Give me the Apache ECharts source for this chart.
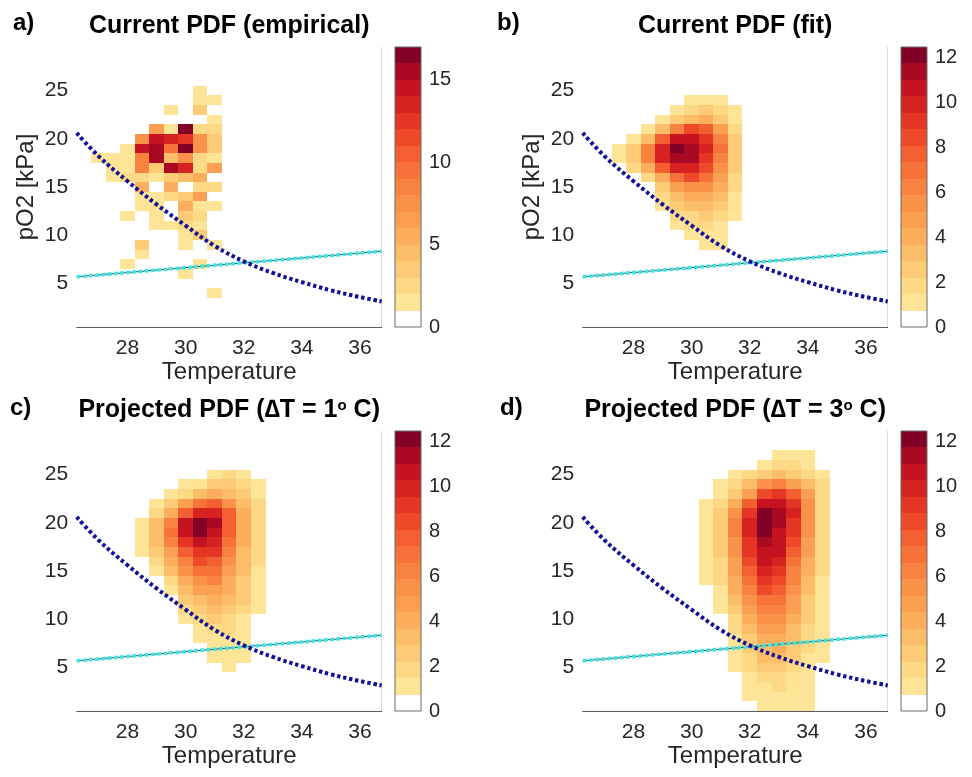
<!DOCTYPE html>
<html><head><meta charset="utf-8">
<script src="https://cdn.jsdelivr.net/npm/echarts@6/dist/echarts.min.js"></script>
<style>html,body{margin:0;padding:0;background:#fff}#c{width:972px;height:777px}</style>
</head><body><div id="c"></div>
<script>
// ---------------- data ----------------
const xTicks = [28, 30, 32, 34, 36];
const yTicks = [5, 10, 15, 20, 25];
const cbTicksA = [0, 5, 10, 15];
const cbTicksFit = [0, 2, 4, 6, 8, 10, 12];

// a) empirical counts
const tempA = [27, 27.5, 28, 28.5, 29, 29.5, 30, 30.5, 31];
const pO2A = [25, 24, 23, 22, 21, 20, 19, 18, 17, 16, 15, 14, 13, 12, 11, 10, 9, 8, 7, 6, 5, 4];
const countsA = [
  [0,0,0,0,0,0,0,1,0],
  [0,0,0,0,0,0,0,1,1],
  [0,0,0,0,0,1,0,3,0],
  [0,0,0,0,0,0,0,0,1],
  [0,0,0,0,6,1,16,2,2],
  [0,0,0,7,14,13,12,7,3],
  [0,0,1,14,15,9,17,7,3],
  [1,1,1,8,15,4,7,2,1],
  [0,1,1,8,3,15,13,2,6],
  [0,1,2,2,1,3,4,5,0],
  [0,0,0,5,0,5,0,2,2],
  [0,0,0,1,1,2,3,6,0],
  [0,0,0,1,1,0,5,1,1],
  [0,0,1,0,1,0,3,2,0],
  [0,0,0,0,1,1,2,1,0],
  [0,0,0,0,0,0,1,3,0],
  [0,0,0,3,0,0,1,0,1],
  [0,0,0,1,0,0,0,0,0],
  [0,0,1,0,0,0,0,1,0],
  [0,0,0,0,0,0,1,0,0],
  [0,0,0,0,0,0,0,0,0],
  [0,0,0,0,0,0,0,0,1]
];

// b) fitted PDF
const tempB = [27.5, 28, 28.5, 29, 29.5, 30, 30.5, 31, 31.5];
const pO2B = [24, 23, 22, 21, 20, 19, 18, 17, 16, 15, 14, 13, 12, 11, 10, 9];
const pdfB = [
  [0,0,0,0,0,1.1,1.1,1.1,0],
  [0,0,0,0,1.1,1.8,2.6,1.8,1.1],
  [0,0,0,1.1,2.6,3.3,4.0,2.6,1.1],
  [0,0,1.1,3.3,6.2,8.4,7.7,4.8,1.8],
  [0,1.1,3.3,7.7,10.6,10.6,9.2,6.2,2.6],
  [1.1,2.6,6.2,9.9,12.1,11.3,9.9,7.0,2.6],
  [1.1,2.6,6.2,9.9,11.3,11.3,9.2,6.2,2.6],
  [0,1.8,4.0,7.7,9.9,9.9,8.4,5.5,2.6],
  [0,0,1.8,4.0,7.0,8.4,7.0,4.8,1.8],
  [0,0,0,2.6,4.8,5.5,5.5,4.0,1.8],
  [0,0,0,1.8,3.3,4.0,4.0,3.3,1.1],
  [0,0,0,1.1,2.6,3.3,3.3,2.6,1.1],
  [0,0,0,0,1.8,1.8,2.6,1.8,1.1],
  [0,0,0,0,1.1,1.8,1.8,1.1,0],
  [0,0,0,0,0,1.1,1.1,1.1,0],
  [0,0,0,0,0,0,1.1,1.1,0]
];

// c) projected PDF, dT = 1
const tempC = [28.5, 29, 29.5, 30, 30.5, 31, 31.5, 32, 32.5];
const pO2C = [25, 24, 23, 22, 21, 20, 19, 18, 17, 16, 15, 14, 13, 12, 11, 10, 9, 8, 7, 6, 5];
const pdfC = [
  [0,0,0,0,0,1.1,1.8,1.1,0],
  [0,0,0,1.1,1.1,2.6,2.6,1.8,1.1],
  [0,0,1.1,1.8,3.3,4.0,3.3,2.6,1.1],
  [0,1.1,2.6,4.8,7.0,7.7,5.5,3.3,1.8],
  [0,1.8,4.0,7.7,9.9,9.9,7.7,4.0,1.8],
  [1.1,3.3,6.2,10.6,12.1,11.3,7.7,4.0,1.8],
  [1.1,3.3,7.0,10.6,12.1,10.6,7.7,4.0,1.8],
  [1.1,3.3,6.2,9.2,10.6,9.9,7.0,4.0,1.8],
  [1.1,2.6,4.8,7.7,9.2,9.2,6.2,3.3,1.8],
  [0,1.8,4.0,6.2,8.4,7.7,5.5,3.3,1.8],
  [0,1.1,3.3,5.5,7.0,7.0,4.8,3.3,1.1],
  [0,0,1.8,4.0,5.5,6.2,4.0,2.6,1.1],
  [0,0,1.1,3.3,4.8,4.8,4.0,2.6,1.1],
  [0,0,0,2.6,3.3,4.0,3.3,2.6,1.1],
  [0,0,0,1.8,2.6,3.3,2.6,1.8,1.1],
  [0,0,0,1.1,1.8,2.6,1.8,1.1,0],
  [0,0,0,0,1.1,1.8,1.8,1.1,0],
  [0,0,0,0,1.1,1.1,1.1,1.1,0],
  [0,0,0,0,0,1.1,1.1,1.1,0],
  [0,0,0,0,0,1.1,1.1,1.1,0],
  [0,0,0,0,0,0,1.1,0,0]
];

// d) projected PDF, dT = 3
const tempD = [30.5, 31, 31.5, 32, 32.5, 33, 33.5, 34, 34.5];
const pO2D = [27, 26, 25, 24, 23, 22, 21, 20, 19, 18, 17, 16, 15, 14, 13, 12, 11, 10, 9, 8, 7, 6, 5, 4, 3, 2, 1];
const pdfD = [
  [0,0,0,0,0,1.1,1.1,1.1,0],
  [0,0,0,0,1.1,1.8,1.8,1.1,0],
  [0,0,1.1,1.8,2.6,3.3,2.6,1.8,1.1],
  [0,1.1,1.8,3.3,5.5,6.2,4.8,3.3,1.8],
  [0,1.1,2.6,4.8,8.4,9.2,7.7,4.8,1.8],
  [1.1,1.8,4.0,7.7,10.6,10.6,9.2,5.5,1.8],
  [1.1,2.6,5.5,9.2,12.1,11.3,9.9,5.5,1.8],
  [1.1,2.6,6.2,9.9,12.1,11.3,9.2,5.5,1.8],
  [1.1,2.6,6.2,9.9,12.1,10.6,9.2,5.5,1.8],
  [1.1,2.6,5.5,9.2,11.3,10.6,8.4,4.8,1.8],
  [1.1,2.6,5.5,9.2,10.6,10.6,7.7,4.8,1.8],
  [1.1,1.8,4.8,8.4,10.6,9.9,7.0,4.0,1.8],
  [1.1,1.8,4.8,7.7,9.9,9.2,6.2,4.0,1.8],
  [1.1,1.8,4.0,7.0,9.2,8.4,6.2,3.3,1.1],
  [0,1.1,4.0,6.2,8.4,7.7,5.5,3.3,1.1],
  [0,1.1,3.3,5.5,7.0,7.0,4.8,2.6,1.1],
  [0,1.1,2.6,4.8,6.2,6.2,4.8,2.6,1.1],
  [0,0,1.8,4.0,5.5,5.5,4.0,2.6,1.1],
  [0,0,1.8,3.3,4.8,4.8,3.3,1.8,1.1],
  [0,0,1.1,2.6,4.0,4.0,3.3,1.8,1.1],
  [0,0,1.1,2.6,3.3,4.0,2.6,1.8,1.1],
  [0,0,1.1,1.8,3.3,3.3,2.6,1.1,1.1],
  [0,0,1.1,1.8,2.6,2.6,1.8,1.1,0],
  [0,0,0,1.1,1.8,1.8,1.1,1.1,0],
  [0,0,0,1.1,1.1,1.8,1.1,1.1,0],
  [0,0,0,1.1,1.1,1.1,1.1,1.1,0],
  [0,0,0,0,1.1,1.1,1.1,1.1,0]
];

// overlay curves (same in every panel)
const curveT = [26.25, 27, 28, 29, 30, 31, 32, 33, 34, 35, 36, 36.75];
const curveP = [20.6, 18.2, 15.6, 13.2, 11.0, 8.9, 7.3, 6.1, 5.15, 4.3, 3.6, 3.15];
const lineT = [26.25, 30, 32, 34, 36.75];
const lineP = [5.7, 6.65, 7.15, 7.65, 8.35];

// ---------------- style ----------------
const FONT = '"Liberation Sans", Arial, Helvetica, sans-serif';
const TXT = '#262626';
const CMAP = ['#ffffff','#fee496','#fed985','#fdcb76','#fcbd68','#fcae5c','#fba052','#fa9249',
  '#f88340','#f67238','#f35f30','#ee4a2a','#e53525','#d72222','#c61321','#aa0924','#820026'];
const NLEV = CMAP.length;
const W = 305, H = 280;

const panels = [
  {left: 76.7, top: 47, temps: tempA, ps: pO2A, vals: countsA, cmax: 17, cb: cbTicksA, ylab: true,
   letter: 'a)', lx: 13, ly: 11, title: '{b|Current PDF (empirical)}'},
  {left: 582.7, top: 47, temps: tempB, ps: pO2B, vals: pdfB, cmax: 12.45, cb: cbTicksFit, ylab: true,
   letter: 'b)', lx: 497, ly: 11, title: '{b|Current PDF (fit)}'},
  {left: 76.7, top: 431, temps: tempC, ps: pO2C, vals: pdfC, cmax: 12.45, cb: cbTicksFit, ylab: false,
   letter: 'c)', lx: 10, ly: 396, title: '{b|Projected PDF (\u2206T = 1}{s|o}{b| C)}'},
  {left: 582.7, top: 431, temps: tempD, ps: pO2D, vals: pdfD, cmax: 12.45, cb: cbTicksFit, ylab: false,
   letter: 'd)', lx: 500, ly: 396, title: '{b|Projected PDF (\u2206T = 3}{s|o}{b| C)}'}
];

const option = {animation: false, backgroundColor: '#fff', grid: [], xAxis: [], yAxis: [], series: [], title: []};

panels.forEach((pn) => {
  const g = option.grid.length;
  const xi = option.xAxis.length;
  const yi = option.yAxis.length;
  // main plot grid
  option.grid.push({left: pn.left, top: pn.top, width: W, height: H});
  option.xAxis.push({type: 'value', gridIndex: g, min: 26.25, max: 36.75,
    axisLine: {show: true, lineStyle: {color: '#5a5a5a', width: 1}}, axisTick: {show: false}, splitLine: {show: false},
    axisLabel: {customValues: xTicks, fontSize: 21, color: TXT, margin: 11, fontFamily: FONT},
    name: 'Temperature', nameLocation: 'middle', nameGap: 31,
    nameTextStyle: {fontSize: 24, color: TXT, fontFamily: FONT}});
  option.yAxis.push({type: 'value', gridIndex: g, min: 0.5, max: 29.5,
    axisLine: {show: false}, axisTick: {show: false}, splitLine: {show: false},
    axisLabel: {customValues: yTicks, fontSize: 21, color: TXT, margin: 8.5, fontFamily: FONT},
    name: pn.ylab ? 'pO2 [kPa]' : '', nameLocation: 'middle', nameGap: 38, nameRotate: 90,
    nameTextStyle: {fontSize: 24, color: TXT, fontFamily: FONT}});
  option.yAxis.push({type: 'value', gridIndex: g, min: 0.5, max: 29.5, position: 'right',
    axisLine: {show: true, lineStyle: {color: '#dedede', width: 1}}, axisTick: {show: false},
    splitLine: {show: false}, axisLabel: {show: false}});

  // heat cells
  const cells = [];
  pn.vals.forEach((row, r) => row.forEach((v, c) => { if (v > 0) cells.push([pn.temps[c], pn.ps[r], v]); }));
  const cmax = pn.cmax;
  option.series.push({type: 'custom', xAxisIndex: xi, yAxisIndex: yi, data: cells, z: 2,
    renderItem: function (params, api) {
      const t = api.value(0), p = api.value(1), v = api.value(2);
      const idx = Math.min(NLEV - 1, Math.floor(v / cmax * NLEV));
      if (idx <= 0) return null;
      const a = api.coord([t - 0.25, p + 0.5]);
      const b = api.coord([t + 0.25, p - 0.5]);
      const x0 = Math.round(a[0]), x1 = Math.round(b[0]), y0 = Math.round(a[1]), y1 = Math.round(b[1]);
      return {type: 'rect', shape: {x: x0, y: y0, width: x1 - x0, height: y1 - y0}, style: {fill: CMAP[idx]}};
    }});
  // cyan line: thin dark core under cyan dashes
  const lineData = lineT.map((t, i) => [t, lineP[i]]);
  option.series.push({type: 'line', xAxisIndex: xi, yAxisIndex: yi, data: lineData, showSymbol: false, z: 5,
    lineStyle: {color: '#404040', width: 1}});
  option.series.push({type: 'line', xAxisIndex: xi, yAxisIndex: yi, data: lineData, showSymbol: false, z: 6,
    lineStyle: {color: '#3ee4e4', width: 3.6, type: [4, 2.2]}});
  // blue curve
  option.series.push({type: 'line', xAxisIndex: xi, yAxisIndex: yi, smooth: 0.4,
    data: curveT.map((t, i) => [t, curveP[i]]), showSymbol: false, z: 7,
    lineStyle: {color: '#10109a', width: 4, type: [3.4, 2.8]}});

  // colorbar
  const gc = option.grid.length;
  const xc = option.xAxis.length;
  const yc = option.yAxis.length;
  option.grid.push({left: pn.left + 318.3, top: pn.top, width: 26, height: H, show: true, z: 10,
    backgroundColor: 'transparent', borderColor: '#6a6a6a', borderWidth: 1});
  option.xAxis.push({type: 'value', gridIndex: gc, min: 0, max: 1, show: false});
  option.yAxis.push({type: 'value', gridIndex: gc, min: 0, max: cmax, position: 'right',
    axisLine: {show: false}, axisTick: {show: false}, splitLine: {show: false},
    axisLabel: {customValues: pn.cb, fontSize: 20, color: TXT, margin: 8, fontFamily: FONT}});
  const levels = CMAP.map((c, k) => [k]);
  option.series.push({type: 'custom', xAxisIndex: xc, yAxisIndex: yc, data: levels, z: 2,
    renderItem: function (params, api) {
      const k = api.value(0);
      const a = api.coord([0, (k + 1) * cmax / NLEV]);
      const b = api.coord([1, k * cmax / NLEV]);
      return {type: 'rect', shape: {x: a[0], y: Math.round(a[1]), width: b[0] - a[0], height: Math.round(b[1]) - Math.round(a[1])},
        style: {fill: CMAP[k]}};
    }});

  // titles
  option.title.push({text: pn.title, left: pn.left + W / 2, top: pn.top - 33, textAlign: 'center', padding: 0,
    textStyle: {rich: {
      b: {fontSize: 25, fontWeight: 'bold', color: '#000', fontFamily: FONT},
      s: {fontSize: 15, fontWeight: 'bold', color: '#000', fontFamily: FONT, verticalAlign: 'top'}}}});
  option.title.push({text: pn.letter, left: pn.lx, top: pn.ly, padding: 0,
    textStyle: {fontSize: 24, fontWeight: 'bold', color: '#000', fontFamily: FONT}});
});

const chart = echarts.init(document.getElementById('c'), null, {renderer: 'canvas'});
chart.setOption(option);
</script>
</body></html>
